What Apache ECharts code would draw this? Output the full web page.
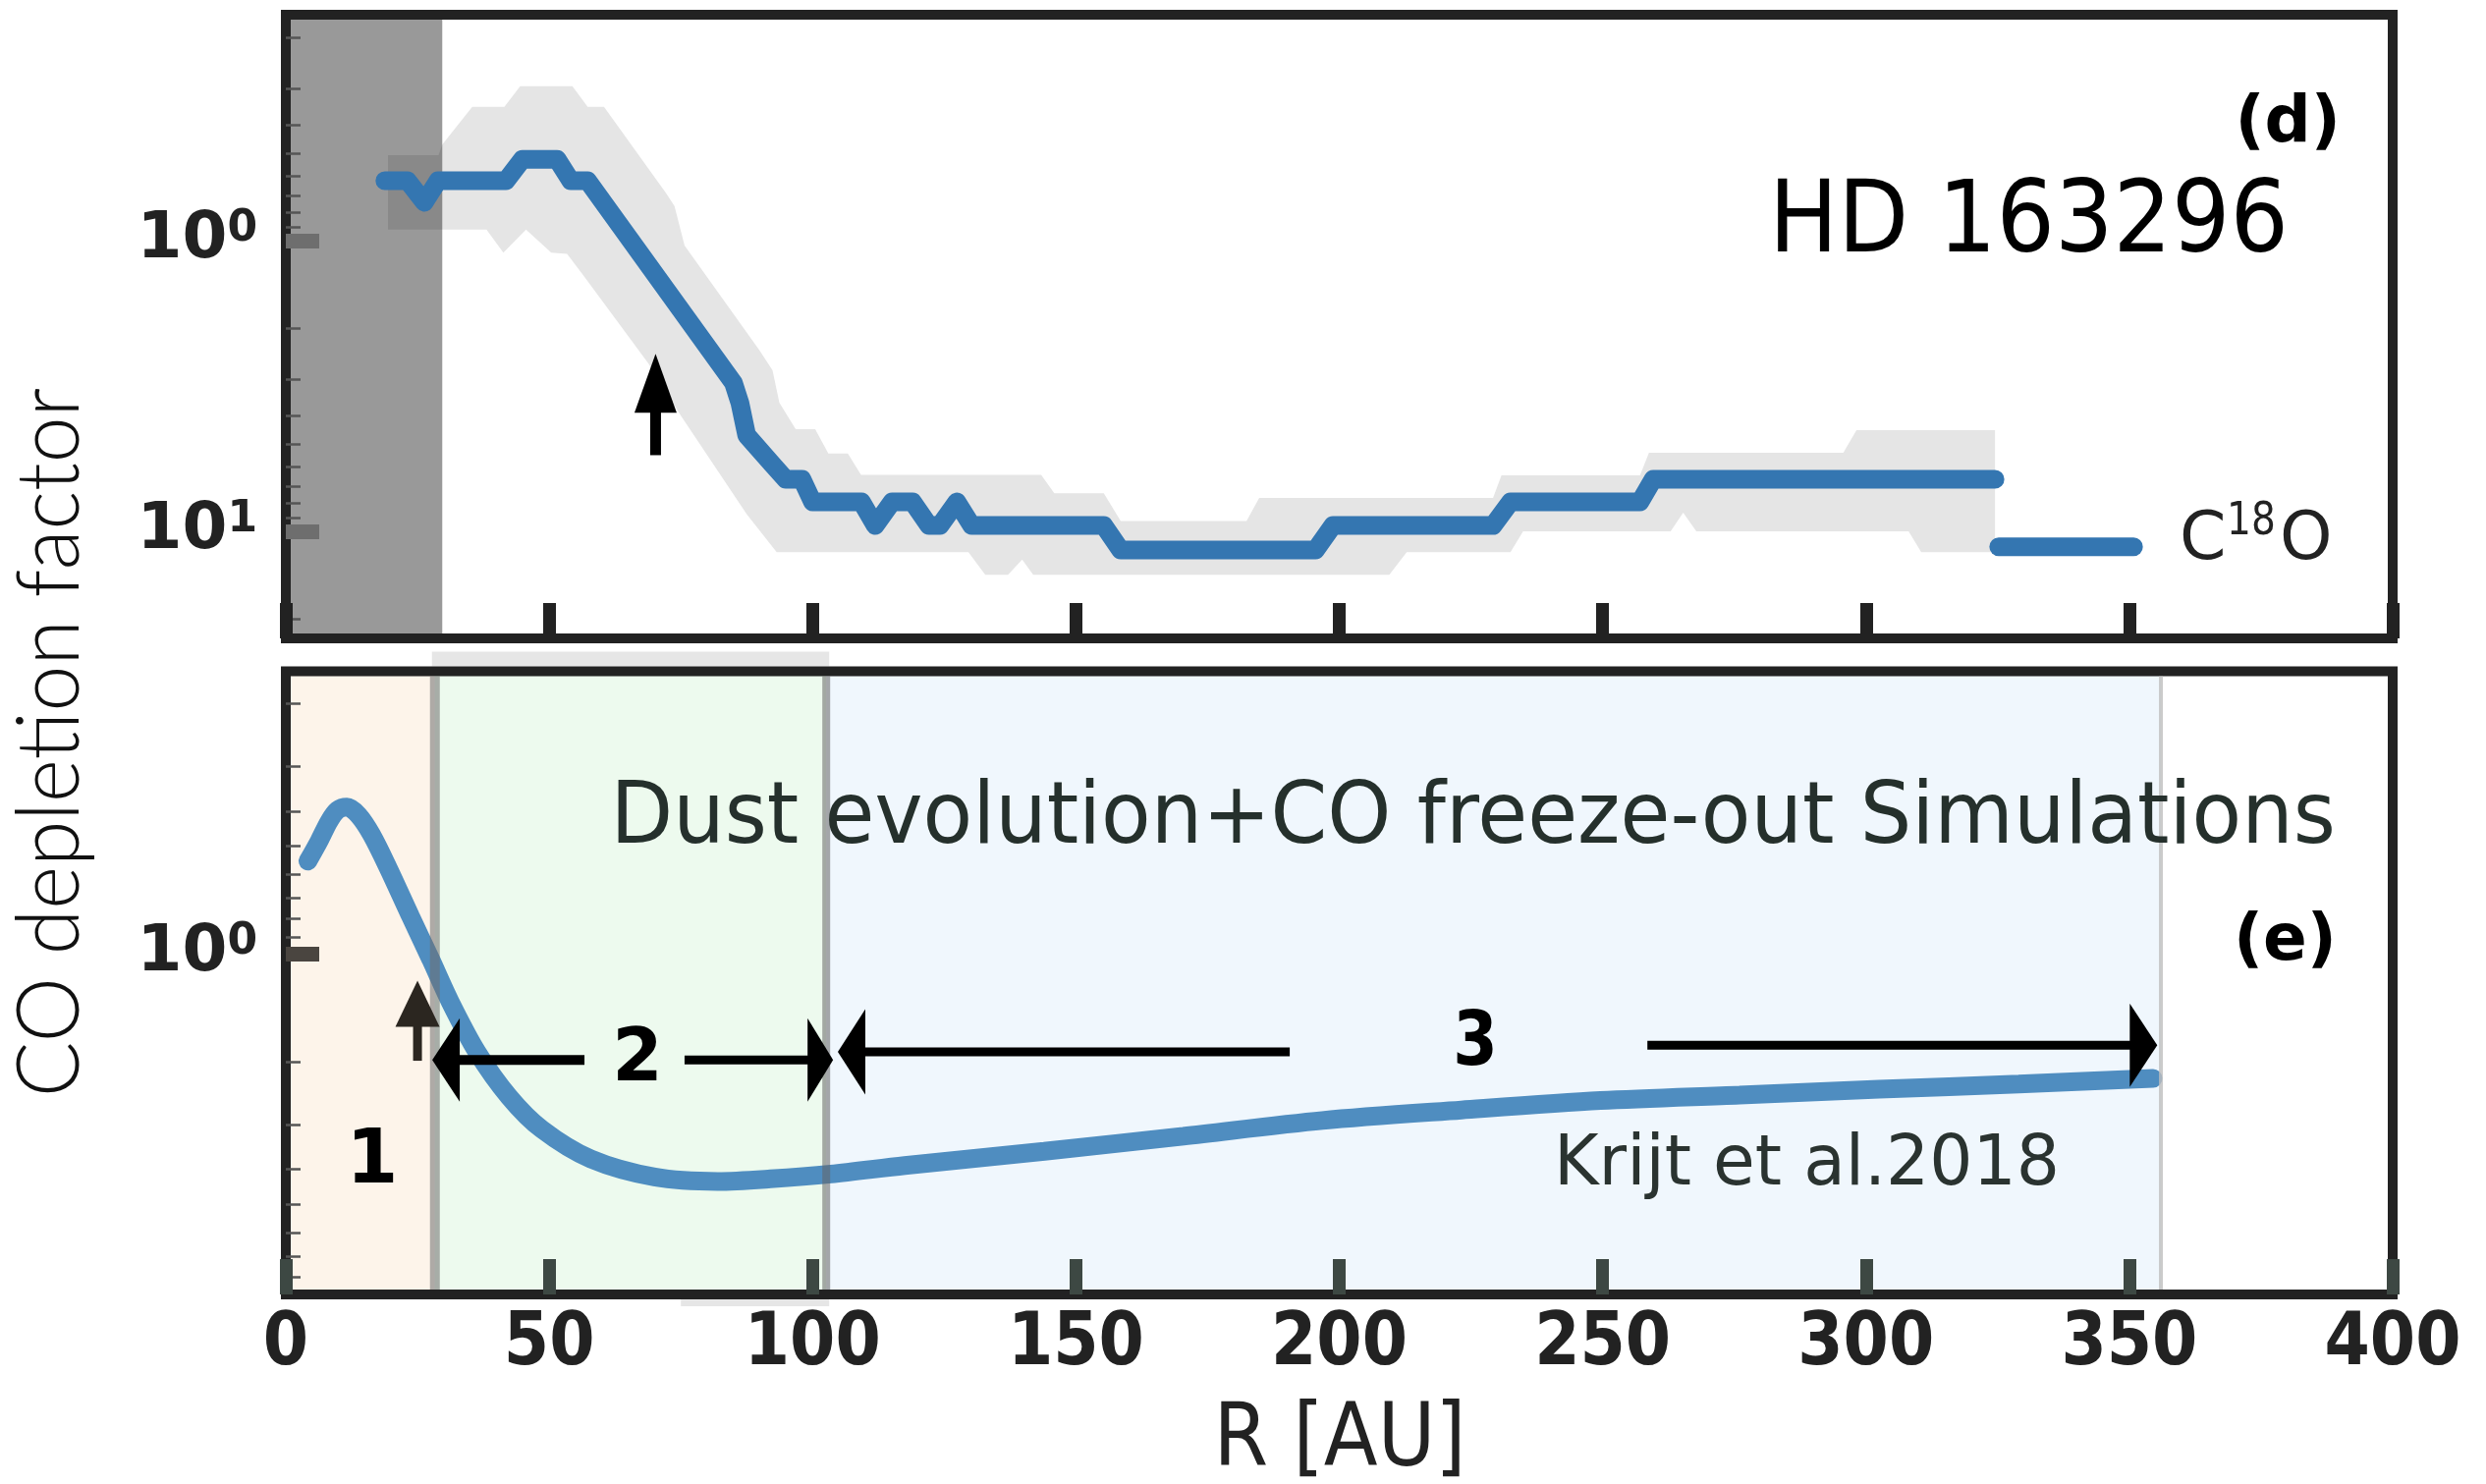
<!DOCTYPE html>
<html><head><meta charset="utf-8">
<script src="https://cdn.jsdelivr.net/npm/echarts@6/dist/echarts.min.js"></script>
<style>html,body{margin:0;padding:0;background:#fff}#c{width:2531px;height:1511px}</style>
</head><body><div id="c"></div>
<script>
// ---------------- data ----------------
const xTickValues = [0, 50, 100, 150, 200, 250, 300, 350, 400];
const yMajorTop = [1, 10];
const yMinorTop = [0.2, 0.3, 0.4, 0.5, 0.6, 0.7, 0.8, 0.9, 2, 3, 4, 5, 6, 7, 8, 9, 20];
const yMajorBottom = [1];
const yMinorBottom = [0.2, 0.3, 0.4, 0.5, 0.6, 0.7, 0.8, 0.9, 2, 3, 4, 5, 6, 7, 8];

// panel (d): C18O depletion profile
const c18oR = [18.8, 23.1, 26.3, 28.9, 41.8, 44.9, 51.5, 54.1, 57.3, 85.0, 86.2, 87.5, 92.4, 94.9, 98.0, 100.0, 109.3, 111.9, 115.1, 119.0, 122.1, 124.2, 127.4, 130.2, 155.3, 158.5, 195.5, 198.8, 229.2, 232.5, 257.1, 259.6, 324.5];
const c18oV = [0.622, 0.622, 0.738, 0.622, 0.622, 0.525, 0.525, 0.622, 0.622, 3.09, 3.61, 4.67, 5.89, 6.62, 6.62, 7.92, 7.92, 9.55, 7.92, 7.92, 9.55, 9.55, 7.92, 9.55, 9.55, 11.6, 11.6, 9.55, 9.55, 7.92, 7.92, 6.62, 6.62];
const c18oOuterR = [325.2, 350.8];
const c18oOuterV = [11.3, 11.3];

// uncertainty band (low-value edge and high-value edge)
const bandLowR = [19.4, 29.0, 29.7, 35.4, 41.5, 44.5, 54.4, 57.3, 60.4, 72.2, 73.8, 75.7, 89.9, 92.4, 93.7, 96.8, 100.5, 103.0, 106.7, 109.2, 143.4, 145.9, 155.3, 158.5, 182.4, 184.8, 229.2, 230.8, 257.1, 258.8, 295.7, 298.2, 324.5];
const bandLowV = [0.508, 0.508, 0.467, 0.346, 0.346, 0.294, 0.294, 0.346, 0.346, 0.687, 0.762, 1.04, 2.38, 2.79, 3.61, 4.45, 4.45, 5.40, 5.40, 6.39, 6.39, 7.4, 7.4, 9.21, 9.21, 7.68, 7.68, 6.42, 6.42, 5.37, 5.37, 4.49, 4.49];
const bandHighR = [19.4, 38.1, 41.3, 45.6, 50.4, 53.4, 56.4, 68.8, 75.0, 87.5, 93.2, 129.6, 132.8, 137.1, 139.8, 141.9, 209.5, 212.8, 232.5, 234.9, 262.9, 265.3, 267.8, 308.1, 310.5, 324.5];
const bandHighV = [0.916, 0.916, 1.10, 0.916, 1.10, 1.11, 1.31, 2.64, 4.0, 8.73, 11.8, 11.8, 14.1, 14.1, 12.5, 14.1, 14.1, 11.8, 11.8, 10.0, 10.0, 8.62, 10.0, 10.0, 11.8, 11.8];

// unresolved inner region (R range)
const innerRegionR = [0, 29.7];

// panel (e): simulation (Krijt et al. 2018)
const simR = [4.2, 6.3, 8.2, 9.8, 11.6, 13.8, 16.3, 19.4, 23.7, 27.5, 31.2, 36.2, 42.4, 48.6, 57.9, 70.0, 82.0, 92.0, 103.5, 117.5, 144.0, 170.4, 196.8, 223.2, 249.6, 276.0, 302.5, 329.0, 354.5];
const simV = [0.552, 0.486, 0.428, 0.398, 0.390, 0.411, 0.466, 0.575, 0.788, 1.036, 1.362, 1.87, 2.51, 3.09, 3.74, 4.20, 4.32, 4.25, 4.12, 3.90, 3.56, 3.23, 2.92, 2.73, 2.57, 2.48, 2.39, 2.31, 2.23];

// zone boundaries in R
const zoneEdges = [0, 28.3, 102.6, 356];
const zoneLabels = ['1', '2', '3'];

// annotation arrows: [R start, value start, R tip, value tip]
const arrowsTop = [[70.2, 5.47, 70.2, 2.45]];
const arrowsBottom = [
  [25.0, 1.99, 25.0, 1.19],
  [56.7, 1.98, 27.8, 1.98],
  [75.7, 1.98, 103.9, 1.98],
  [190.6, 1.88, 104.8, 1.88],
  [258.5, 1.80, 355.3, 1.80]
];

// ---------------- styles ----------------
const arrowStyleTop = [{hl: 60, hw: 43, sw: 11, c: '#000'}];
const arrowStyleBottom = [
  {hl: 47, hw: 45, sw: 9, c: '#2b2620'},
  {hl: 28, hw: 85, sw: 10, c: '#000'},
  {hl: 26, hw: 85, sw: 9, c: '#000'},
  {hl: 28, hw: 87, sw: 9, c: '#000'},
  {hl: 28, hw: 85, sw: 9, c: '#000'}
];
const zoneColors = ['#fdf4ea', '#edfaee', '#f0f7fd'];
const zoneEdgeStyles = [
  {c: 'rgba(110,110,110,0.55)', w: 10},
  {c: 'rgba(100,100,100,0.55)', w: 8},
  {c: 'rgba(190,190,190,0.8)', w: 4}
];

const chart = echarts.init(document.getElementById('c'), null, {renderer: 'canvas'});

function arrowItem(styles) {
  return function (params, api) {
    const s = styles[params.dataIndex];
    const p0 = api.coord([api.value(0), api.value(1)]);
    const p1 = api.coord([api.value(2), api.value(3)]);
    const dx = p1[0] - p0[0], dy = p1[1] - p0[1];
    const L = Math.hypot(dx, dy) || 1;
    const ux = dx / L, uy = dy / L, px = -uy, py = ux;
    const bx = p1[0] - ux * s.hl, by = p1[1] - uy * s.hl;
    return {
      type: 'group',
      children: [
        {type: 'line', shape: {x1: p0[0], y1: p0[1], x2: bx + ux * 2, y2: by + uy * 2}, style: {stroke: s.c, lineWidth: s.sw}},
        {type: 'polygon', shape: {points: [[p1[0], p1[1]], [bx + px * s.hw / 2, by + py * s.hw / 2], [bx - px * s.hw / 2, by - py * s.hw / 2]]}, style: {fill: s.c}}
      ]
    };
  };
}

const DV = '"DejaVu Sans", sans-serif';
const DVC = '"DejaVu Sans Condensed", "DejaVu Sans", sans-serif';

function xAxis(gridIndex, showLabels, tickColor) {
  return {
    gridIndex: gridIndex, type: 'value', min: 0, max: 400, interval: 50, position: 'bottom',
    axisLine: {show: false}, splitLine: {show: false},
    axisTick: {show: true, inside: true, length: 36, lineStyle: {width: 13, color: tickColor}},
    axisLabel: {show: showLabels, margin: 15, fontSize: 74, fontWeight: 'bold', fontFamily: DVC, color: '#222',
      customValues: xTickValues}
  };
}
function yAxis(gridIndex, min, max, majors, minors, isMajor, majorColor) {
  const base = {
    gridIndex: gridIndex, type: 'log', logBase: 10, min: min, max: max, inverse: true, position: 'left',
    axisLine: {show: false}, splitLine: {show: false}
  };
  if (isMajor) {
    base.axisTick = {show: true, inside: true, length: 34, customValues: majors, lineStyle: {width: 15, color: majorColor}};
    base.axisLabel = {
      show: true, margin: 29, customValues: majors,
      formatter: function (v) { return '{b|10}{s|' + Math.round(Math.log10(v)) + '}'; },
      rich: {
        b: {fontSize: 66, fontWeight: 'bold', fontFamily: DV, color: '#222', lineHeight: 66},
        s: {fontSize: 44, fontWeight: 'bold', fontFamily: DV, color: '#222', lineHeight: 40, verticalAlign: 'top'}
      }
    };
  } else {
    base.axisTick = {show: true, inside: true, length: 15, customValues: minors, lineStyle: {width: 2.5, color: '#555'}};
    base.axisLabel = {show: false};
  }
  return base;
}

const option = {
  animation: false,
  backgroundColor: '#fff',
  grid: [
    {left: 291, width: 2145, top: 15, height: 635, show: true, borderColor: '#222', borderWidth: 10, backgroundColor: 'transparent'},
    {left: 291, width: 2145, top: 683.5, height: 634.5, show: true, borderColor: '#222', borderWidth: 10, backgroundColor: 'transparent'}
  ],
  xAxis: [xAxis(0, false, '#222'), xAxis(1, true, '#3d4843')],
  yAxis: [
    yAxis(0, 0.167, 23.35, yMajorTop, yMinorTop, true, '#6e6e6e'),
    yAxis(0, 0.167, 23.35, yMajorTop, yMinorTop, false),
    yAxis(1, 0.163, 8.93, yMajorBottom, yMinorBottom, true, '#4a4540'),
    yAxis(1, 0.163, 8.93, yMajorBottom, yMinorBottom, false)
  ],
  visualMap: [{
    show: false, type: 'piecewise', seriesIndex: 6, dimension: 0,
    pieces: [
      {lt: zoneEdges[1], color: '#5a88ad'},
      {gte: zoneEdges[1], lt: zoneEdges[2], color: '#4d93b9'},
      {gte: zoneEdges[2], color: '#4f8dc0'}
    ]
  }],
  series: [
    // 0: uncertainty band
    {
      type: 'custom', xAxisIndex: 0, yAxisIndex: 0, z: -2, clip: true, silent: true,
      data: [[bandLowR[0], bandLowV[0]]], encode: {x: 0, y: 1},
      renderItem: function (params, api) {
        const pts = [];
        bandLowR.forEach(function (r, i) { pts.push(api.coord([r, bandLowV[i]])); });
        for (let i = bandHighR.length - 1; i >= 0; i--) pts.push(api.coord([bandHighR[i], bandHighV[i]]));
        return {type: 'polygon', shape: {points: pts}, style: {fill: '#e5e5e5'}};
      }
    },
    // 1: inner unresolved region
    {
      type: 'custom', xAxisIndex: 0, yAxisIndex: 0, z: -1, clip: true, silent: true,
      data: [[innerRegionR[0], innerRegionR[1], 1]], encode: {x: [0, 1], y: 2},
      renderItem: function (params, api) {
        const cs = params.coordSys;
        const x0 = api.coord([api.value(0), 1])[0];
        const x1 = api.coord([api.value(1), 1])[0];
        return {type: 'rect', shape: {x: x0, y: cs.y, width: x1 - x0, height: cs.height}, style: {fill: 'rgba(0,0,0,0.4)'}};
      }
    },
    // 2: C18O profile
    {
      type: 'line', xAxisIndex: 0, yAxisIndex: 0, symbol: 'none', z: 2,
      data: c18oR.map(function (r, i) { return [r, c18oV[i]]; }),
      lineStyle: {width: 19, color: '#3476b1', cap: 'round', join: 'round'}
    },
    // 3: C18O outer segment
    {
      type: 'line', xAxisIndex: 0, yAxisIndex: 0, symbol: 'none', z: 2,
      data: c18oOuterR.map(function (r, i) { return [r, c18oOuterV[i]]; }),
      lineStyle: {width: 19, color: '#3476b1', cap: 'round'}
    },
    // 4: arrow top
    {
      type: 'custom', xAxisIndex: 0, yAxisIndex: 0, z: 4, clip: false, silent: true,
      data: arrowsTop, encode: {x: [0, 2], y: [1, 3]},
      renderItem: arrowItem(arrowStyleTop)
    },
    // 5: zones (bottom)
    {
      type: 'custom', xAxisIndex: 1, yAxisIndex: 2, z: -2, clip: false, silent: true,
      data: zoneLabels.map(function (l, i) { return [zoneEdges[i], zoneEdges[i + 1], 1]; }), encode: {x: [0, 1], y: 2},
      renderItem: function (params, api) {
        const cs = params.coordSys;
        const x0 = api.coord([api.value(0), 1])[0];
        const x1 = api.coord([api.value(1), 1])[0];
        const children = [{type: 'rect', shape: {x: x0, y: cs.y, width: x1 - x0, height: cs.height}, style: {fill: zoneColors[params.dataIndex]}}];
        if (params.dataIndex === 1) {
          // faint grey edge of the pasted zone-2 panel sticking out above/below the frame
          children.push({type: 'rect', shape: {x: x0 - 3, y: cs.y - 20, width: x1 - x0 + 6, height: 15}, style: {fill: 'rgba(200,200,200,0.45)'}});
          const xm = api.coord([75, 1])[0];
          children.push({type: 'rect', shape: {x: xm, y: cs.y + cs.height + 4, width: x1 - xm + 3, height: 8}, style: {fill: 'rgba(200,200,200,0.45)'}});
        }
        return {type: 'group', children: children};
      }
    },
    // 6: simulation curve
    {
      type: 'line', xAxisIndex: 1, yAxisIndex: 2, symbol: 'none', z: 2, smooth: 0.3,
      data: simR.map(function (r, i) { return [r, simV[i]]; }),
      lineStyle: {width: 19, color: '#4f8dc0', cap: 'round'}
    },
    // 7: zone boundary lines
    {
      type: 'custom', xAxisIndex: 1, yAxisIndex: 2, z: 3, clip: false, silent: true,
      data: zoneEdges.slice(1).map(function (e) { return [e, 1]; }), encode: {x: 0, y: 1},
      renderItem: function (params, api) {
        const cs = params.coordSys;
        const x = api.coord([api.value(0), 1])[0];
        const s = zoneEdgeStyles[params.dataIndex];
        return {type: 'line', shape: {x1: x, y1: cs.y + 5, x2: x, y2: cs.y + cs.height - 5}, style: {stroke: s.c, lineWidth: s.w}};
      }
    },
    // 8: arrows bottom
    {
      type: 'custom', xAxisIndex: 1, yAxisIndex: 2, z: 4, clip: false, silent: true,
      data: arrowsBottom, encode: {x: [0, 2], y: [1, 3]},
      renderItem: arrowItem(arrowStyleBottom)
    }
  ],
  graphic: {elements: [
    {type: 'text', x: 2383, y: 127, z: 10, style: {text: '(d)', fontSize: 66, fontWeight: 'bold', fontFamily: DV, fill: '#000', align: 'right', textAlign: 'right', verticalAlign: 'middle', textVerticalAlign: 'middle'}},
    {type: 'text', x: 2330, y: 229.6, scaleX: 0.926, z: 10, style: {text: 'HD 163296', fontSize: 101, fontFamily: DV, fill: '#000', align: 'right', textAlign: 'right', verticalAlign: 'middle', textVerticalAlign: 'middle'}},
    {type: 'text', x: 2219, y: 551.5, z: 10, style: {text: 'C', fontSize: 68, fontFamily: DV, fill: '#222', align: 'left', textAlign: 'left', verticalAlign: 'middle', textVerticalAlign: 'middle'}},
    {type: 'text', x: 2267, y: 532.5, scaleX: 0.85, z: 10, style: {text: '18', fontSize: 46, fontFamily: DV, fill: '#222', align: 'left', textAlign: 'left', verticalAlign: 'middle', textVerticalAlign: 'middle'}},
    {type: 'text', x: 2321, y: 551.5, z: 10, style: {text: 'O', fontSize: 68, fontFamily: DV, fill: '#222', align: 'left', textAlign: 'left', verticalAlign: 'middle', textVerticalAlign: 'middle'}},
    {type: 'text', x: 621.5, y: 835.7, scaleX: 0.957, z: 10, style: {text: 'Dust evolution+CO freeze-out Simulations', fontSize: 86.5, fontFamily: DV, fill: '#25302c', align: 'left', textAlign: 'left', verticalAlign: 'middle', textVerticalAlign: 'middle'}},
    {type: 'text', x: 2379, y: 959.5, z: 10, style: {text: '(e)', fontSize: 66, fontWeight: 'bold', fontFamily: DV, fill: '#000', align: 'right', textAlign: 'right', verticalAlign: 'middle', textVerticalAlign: 'middle'}},
    {type: 'text', x: 1582, y: 1187.4, scaleX: 0.965, z: 10, style: {text: 'Krijt et al.2018', fontSize: 72, fontFamily: DV, fill: '#2a3330', align: 'left', textAlign: 'left', verticalAlign: 'middle', textVerticalAlign: 'middle'}},
    {type: 'text', x: 379, y: 1184.4, z: 10, style: {text: zoneLabels[0], fontSize: 76, fontWeight: 'bold', fontFamily: DV, fill: '#000', align: 'center', textAlign: 'center', verticalAlign: 'middle', textVerticalAlign: 'middle'}},
    {type: 'text', x: 649, y: 1081, z: 10, style: {text: zoneLabels[1], fontSize: 74, fontWeight: 'bold', fontFamily: DV, fill: '#000', align: 'center', textAlign: 'center', verticalAlign: 'middle', textVerticalAlign: 'middle'}},
    {type: 'text', x: 1502, y: 1063.5, scaleX: 0.85, z: 10, style: {text: zoneLabels[2], fontSize: 77, fontWeight: 'bold', fontFamily: DV, fill: '#000', align: 'center', textAlign: 'center', verticalAlign: 'middle', textVerticalAlign: 'middle'}},
    {type: 'text', x: 1364, y: 1469, scaleX: 0.9, z: 10, style: {text: 'R [AU]', fontSize: 89, fontFamily: DV, fill: '#222', align: 'center', textAlign: 'center', verticalAlign: 'middle', textVerticalAlign: 'middle'}},
    {type: 'text', x: 52, y: 756, rotation: Math.PI / 2, scaleX: 0.955, z: 10, style: {text: 'CO depletion factor', fontSize: 88, fontWeight: 300, fontFamily: 'Lato, "Open Sans", sans-serif', fill: '#111', align: 'center', textAlign: 'center', verticalAlign: 'middle', textVerticalAlign: 'middle'}}
  ]}
};
chart.setOption(option);
</script>
</body></html>
